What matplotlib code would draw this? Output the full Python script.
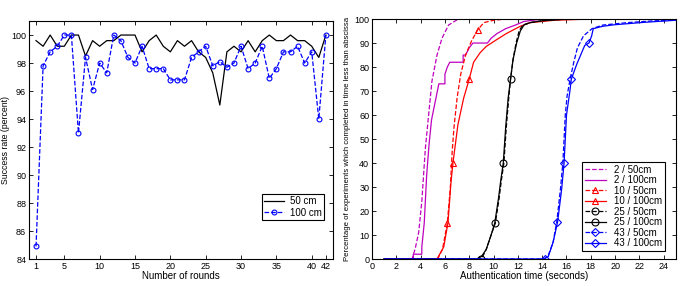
import matplotlib.pyplot as plt
import numpy as np

plt.rcParams['font.family'] = ['Liberation Sans', 'DejaVu Sans']

# ---- left panel: success rate per round
rounds = np.arange(1, 43)
rate_50 = [99.6, 99.2, 100, 99.2, 99.2, 100, 100, 98.5, 99.6, 99.2,
           99.6, 99.6, 100, 100, 100, 98.8, 99.6, 100, 99.2, 98.8,
           99.6, 99.2, 99.6, 98.8, 98.4, 97.3, 95.0, 98.8, 99.2, 98.8,
           99.6, 98.8, 99.6, 100, 99.6, 99.6, 100, 99.6, 99.6, 99.2,
           98.4, 100]
rate_100 = [84.9, 97.8, 98.8, 99.2, 100, 100, 93.0, 98.4, 96.1, 98.0,
            97.3, 100, 99.6, 98.4, 98.0, 99.2, 97.6, 97.6, 97.6, 96.8,
            96.8, 96.8, 98.4, 98.8, 99.2, 97.8, 98.1, 97.7, 98.0, 99.2,
            97.6, 98.0, 99.2, 96.9, 97.6, 98.8, 98.8, 99.2, 98.0, 98.8,
            94.0, 100]
left_xticks = [1, 5, 10, 15, 20, 25, 30, 35, 40, 42]

# ---- right panel: cumulative authentication times (seconds, percent)
t_2_50 = [1, 3.3, 3.56, 3.84, 4.1, 4.39, 4.66, 4.93, 5.35, 5.76, 6.3, 7.1, 25]
p_2_50 = [0, 0, 4.4, 11, 24, 46, 60, 74, 85, 92, 97.5, 100, 100]
t_2_100 = [1, 3.4, 3.4, 4.1, 4.1, 4.3, 4.5, 4.7, 4.9, 5.1, 5.3, 5.5, 6.0, 6.0,
           6.2, 6.4, 7.5, 7.5, 7.7, 8.0, 8.3, 9.5, 9.8, 10.3, 11.0, 11.8,
           12.5, 14, 25]
p_2_100 = [0, 0, 2, 2, 5, 15, 35, 48, 58, 63, 68, 73, 73, 77,
           80, 82, 82, 85, 85, 88, 90, 90, 92, 94, 96, 97.5,
           99, 100, 100]
t_10_50 = [1, 5.4, 5.8, 6.2, 6.45, 6.6, 6.75, 7.0, 7.3, 7.7, 8.2, 8.7, 9.2, 10, 11, 25]
p_10_50 = [0, 0, 4, 15, 30, 45, 55, 67, 77, 85, 91, 95.5, 98.5, 99.5, 100, 100]
t_10_100 = [1, 5.35, 5.9, 6.25, 6.5, 6.66, 7.07, 7.54, 8.0, 8.36, 8.9, 9.4,
            10.25, 11.07, 12.2, 13, 15, 18, 25]
p_10_100 = [0, 0, 5, 15, 32, 40, 56, 67, 75, 82, 86, 88.6,
            91.4, 94, 97, 98.5, 99.5, 100, 100]
t_25_50 = [1, 9.0, 9.4, 9.8, 10.15, 10.45, 10.65, 10.85, 11.05, 11.25, 11.4,
           11.6, 11.85, 12.1, 12.4, 13, 14, 16, 25]
p_25_50 = [0, 0, 4, 10, 15, 25, 33, 40, 55, 67, 75, 83, 90, 95, 97.5, 98.5, 99.3, 100, 100]
t_25_100 = [1, 8.6, 9.0, 9.4, 9.8, 10.1, 10.4, 10.6, 10.8, 11.0, 11.2, 11.4,
            11.6, 11.9, 12.2, 12.5, 13, 14, 16, 25]
p_25_100 = [0, 0, 1, 4, 10, 15, 25, 33, 40, 55, 67, 75, 83, 90, 95, 97.5, 98.5, 99.3, 100, 100]
t_43_50 = [1, 14.2, 14.5, 14.9, 15.2, 15.5, 15.7, 15.9, 16.05, 16.3, 16.6,
           16.9, 17.4, 18.1, 19.0, 21, 23, 25]
p_43_50 = [0, 0, 1.5, 7, 15.5, 29, 40, 60, 68, 75, 82, 88, 93, 96, 97.5, 98.5, 99.2, 99.6]
t_43_100 = [1, 14.1, 14.5, 14.9, 15.27, 15.6, 15.8, 16.0, 16.28, 16.4, 16.83,
            17.5, 17.85, 18.07, 18.2, 19.0, 19.9, 22.3, 25]
p_43_100 = [0, 0, 1, 7, 15.5, 29, 40, 60, 70, 75, 81, 89, 90, 93, 96, 97, 97.6, 98.6, 99.5]

fig = plt.figure(figsize=(6.8, 2.86), dpi=100)
ax1 = fig.add_axes([0.0426, 0.0944, 0.447, 0.832])
ax2 = fig.add_axes([0.547, 0.0944, 0.447, 0.839])

fs = 6.5
for ax in (ax1, ax2):
    ax.tick_params(direction='in', top=True, right=True, labelsize=fs,
                   length=3, width=0.6, pad=2)
    for s in ax.spines.values():
        s.set_linewidth(0.8)

# left
ax1.plot(rounds, rate_50, '-', color='k', lw=0.9, label='50 cm')
ax1.plot(rounds, rate_100, '--', color='b', lw=0.9, marker='o', ms=3.5,
         mfc='none', mew=0.8, label='100 cm')
ax1.set_xlim(0, 43)
ax1.set_ylim(84, 101)
ax1.set_xticks(left_xticks)
ax1.set_yticks(np.arange(84, 101, 2))
ax1.set_xlabel('Number of rounds', fontsize=7, labelpad=0)
ax1.set_ylabel('Success rate (percent)', fontsize=6.3)
ax1.yaxis.set_label_coords(-0.064, 0.5)
leg1 = ax1.legend(loc='lower right', bbox_to_anchor=(0.97, 0.164), fontsize=7,
                  fancybox=False, edgecolor='k', framealpha=1,
                  borderpad=0.25, handlelength=2.0, handletextpad=0.6,
                  labelspacing=0.15, borderaxespad=0)
leg1.get_frame().set_linewidth(0.8)

# right
kw = dict(lw=0.9, ms=5, mfc='none', mew=0.8)
ax2.plot(t_2_50, p_2_50, '--', color='m', label='2 / 50cm', **kw)
ax2.plot(t_2_100, p_2_100, '-', color='m', label='2 / 100cm', **kw)
ax2.plot(t_10_50, p_10_50, '--', color='r', marker='^', markevery=[3, 11],
         label='10 / 50cm', **kw)
ax2.plot(t_10_100, p_10_100, '-', color='r', marker='^', markevery=[5, 8],
         label='10 / 100cm', **kw)
ax2.plot(t_25_50, p_25_50, '--', color='k', marker='o', markevery=[1],
         label='25 / 50cm', **kw)
ax2.plot(t_25_100, p_25_100, '-', color='k', marker='o', markevery=[5, 8, 11],
         label='25 / 100cm', **kw)
ax2.plot(t_43_50, p_43_50, '--', color='b', marker='D', markevery=[1, 4],
         label='43 / 50cm', lw=0.9, ms=4, mfc='none', mew=0.8)
ax2.plot(t_43_100, p_43_100, '-', color='b', marker='D', markevery=[6, 9, 12],
         label='43 / 100cm', lw=0.9, ms=4, mfc='none', mew=0.8)
ax2.set_xlim(0, 25)
ax2.set_ylim(0, 100)
ax2.set_xticks(np.arange(0, 25, 2))
ax2.set_yticks(np.arange(0, 101, 10))
ax2.set_xlabel('Authentication time (seconds)', fontsize=7, labelpad=0)
ax2.set_ylabel('Percentage of experiments which completed in time less than abscissa',
               fontsize=5.6)
ax2.yaxis.set_label_coords(-0.07, 0.5)
leg2 = ax2.legend(loc='lower right', bbox_to_anchor=(0.964, 0.033), fontsize=7,
                  fancybox=False, edgecolor='k', framealpha=1,
                  borderpad=0.3, handlelength=2.2, labelspacing=0.05,
                  borderaxespad=0)
leg2.get_frame().set_linewidth(0.8)

fig.savefig('out.png', dpi=100)
